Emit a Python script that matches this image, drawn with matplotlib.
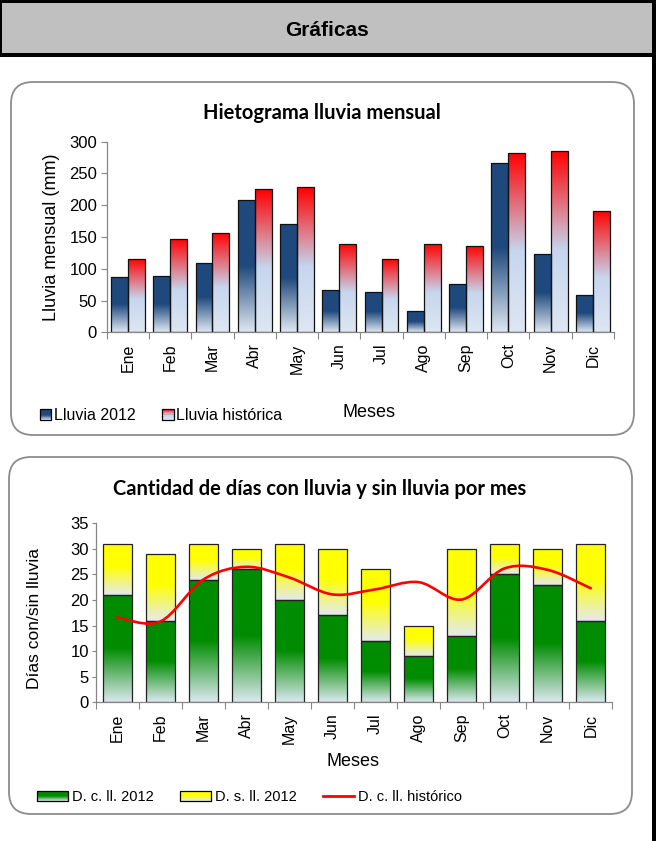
import numpy as np
import matplotlib
matplotlib.use("Agg")
import matplotlib.pyplot as plt
from matplotlib.patches import Rectangle, FancyBboxPatch, PathPatch, Patch
from matplotlib.lines import Line2D
from matplotlib.path import Path
from matplotlib.legend_handler import HandlerBase

plt.rcParams['font.family'] = ['Liberation Sans', 'DejaVu Sans']

# data
meses = ['Ene', 'Feb', 'Mar', 'Abr', 'May', 'Jun', 'Jul', 'Ago', 'Sep', 'Oct', 'Nov', 'Dic']
lluvia_2012 = [87, 88, 109, 208, 171, 66, 64, 33, 76, 266, 124, 59]
lluvia_historica = [116, 147, 156, 225, 228, 139, 115, 139, 136, 282, 285, 191]
dias_con_lluvia_2012 = [21, 16, 24, 26, 20, 17, 12, 9, 13, 25, 23, 16]
dias_del_mes_2012 = [31, 29, 31, 30, 31, 30, 26, 15, 30, 31, 30, 31]
dias_con_lluvia_hist = [16.6, 15.8, 24.0, 26.5, 24.4, 21.1, 22.1, 23.5, 20.1, 26.2, 25.9, 22.3]

# gradient stops (position from bottom of bar, rgb)
BLUE = [(0.0, (222, 231, 242)), (0.5, (31, 73, 125)), (1.0, (31, 73, 125))]
RED = [(0.0, (222, 231, 242)), (0.45, (198, 214, 238)), (1.0, (255, 0, 0))]
GREEN = [(0.0, (220, 232, 240)), (0.5, (0, 140, 0)), (1.0, (0, 140, 0))]
YELLOW = [(0.0, (228, 234, 240)), (0.55, (255, 255, 0)), (1.0, (255, 255, 0))]


def color_at(stops, t):
    pos = [s[0] for s in stops]
    return tuple(np.interp(t, pos, [s[1][k] for s in stops]) / 255 for k in range(3))


def gradient_bars(ax, bars, stops):
    t = np.linspace(0, 1, 200)
    img = np.array([color_at(stops, v) for v in t]).reshape(200, 1, 3)
    for b in bars:
        x0, y0, w, h = b.get_x(), b.get_y(), b.get_width(), b.get_height()
        im = ax.imshow(img, extent=(x0, x0 + w, y0, y0 + h), origin='lower',
                       aspect='auto', interpolation='bilinear', zorder=1.5)
        im.set_clip_path(b)
        b.set_facecolor('none')


class GradHandler(HandlerBase):
    def __init__(self, stops):
        super().__init__()
        self.stops = stops

    def create_artists(self, legend, orig_handle, xdescent, ydescent, width, height, fontsize, trans):
        arts = []
        n = 10
        for i in range(n):
            arts.append(Rectangle((-xdescent, -ydescent + height * i / n), width, height / n,
                                  facecolor=color_at(self.stops, (i + 0.5) / n), edgecolor='none',
                                  transform=trans))
        arts.append(Rectangle((-xdescent, -ydescent), width, height, facecolor='none',
                              edgecolor='black', lw=0.9, transform=trans))
        return arts


fig = plt.figure(figsize=(6.56, 8.41), dpi=100)
H = 841


def px_rect(x, y, w, h, **kw):
    # rectangle given in top-left pixel coords
    return Rectangle((x / 100, (H - y - h) / 100), w / 100, h / 100,
                     transform=fig.dpi_scale_trans, **kw)


# header and frame
fig.patches.append(px_rect(0, 0, 656, 54, facecolor='#c0c0c0', edgecolor='none', zorder=-3))
fig.patches.append(px_rect(0, 0, 656, 3, facecolor='black', edgecolor='none', zorder=-2))
fig.patches.append(px_rect(0, 53, 656, 4, facecolor='black', edgecolor='none', zorder=-2))
fig.patches.append(px_rect(0, 0, 2, 57, facecolor='black', edgecolor='none', zorder=-2))
fig.patches.append(px_rect(652, 0, 4, 841, facecolor='black', edgecolor='none', zorder=-2))
fig.text(0.4985, 0.9643, 'Gráficas', ha='center', va='center', fontsize=15, fontweight='bold')

# rounded chart boxes
for (x0, y0, x1, y1) in [(11, 82, 634, 435), (9, 457, 632, 814)]:
    fig.patches.append(FancyBboxPatch((x0 / 100, (H - y1) / 100), (x1 - x0) / 100, (y1 - y0) / 100,
                                      boxstyle='round,pad=0,rounding_size=0.22',
                                      transform=fig.dpi_scale_trans, facecolor='white',
                                      edgecolor='#8c8c8c', lw=1.3, zorder=-3))

x = np.arange(len(meses))
GRAY = '#868686'


def style_axis(ax):
    ax.patch.set_visible(False)
    for s in ['top', 'right']:
        ax.spines[s].set_visible(False)
    for s in ['left', 'bottom']:
        ax.spines[s].set_color(GRAY)
        ax.spines[s].set_linewidth(0.9)
    ax.set_xlim(-0.5, len(meses) - 0.5)
    ax.set_xticks(np.arange(-0.5, len(meses)))
    ax.set_xticklabels([])
    ax.set_xticks(x, minor=True)
    ax.set_xticklabels(meses, minor=True, rotation=90, fontsize=11.5)
    ax.tick_params(axis='x', which='major', direction='out', length=5, color=GRAY)
    ax.tick_params(axis='x', which='minor', length=0, pad=8)
    ax.tick_params(axis='y', direction='out', length=4, color=GRAY, labelsize=12, pad=3)


# chart 1: hietograma
ax1 = fig.add_axes([0.1627, 0.6049, 0.7733, 0.2266])
b1 = ax1.bar(x - 0.2, lluvia_2012, width=0.4, edgecolor='#111111', linewidth=0.9, zorder=2)
b2 = ax1.bar(x + 0.2, lluvia_historica, width=0.4, edgecolor='#111111', linewidth=0.9, zorder=2)
gradient_bars(ax1, b1, BLUE)
gradient_bars(ax1, b2, RED)
style_axis(ax1)
ax1.set_ylim(0, 300)
ax1.set_yticks(range(0, 301, 50))
ax1.set_ylabel('Lluvia mensual (mm)', fontsize=13)
ax1.yaxis.set_label_coords(-0.1084, 0.50)
ax1.yaxis.label.set_va('center')
ax1.set_xlabel('Meses', fontsize=13)
ax1.xaxis.set_label_coords(0.517, -0.422)
ax1.xaxis.label.set_va('center')
fig.text(0.4904, 0.8656, 'Hietograma lluvia mensual', ha='center', va='center',
         fontsize=14.5, fontweight='bold', family='Lato')

h1, h2 = Patch(), Patch()
fig.legend([h1, h2], ['Lluvia 2012', 'Lluvia histórica'], loc='center left',
           bbox_to_anchor=(0.061, 0.5057), ncol=2, frameon=False, fontsize=11.5,
           handlelength=0.7, handleheight=0.7, handletextpad=0.15, columnspacing=1.7,
           borderpad=0, borderaxespad=0,
           handler_map={h1: GradHandler(BLUE), h2: GradHandler(RED)})

# chart 2: dias con / sin lluvia
ax2 = fig.add_axes([0.1459, 0.1649, 0.7875, 0.2128])
dias_sin = np.array(dias_del_mes_2012) - np.array(dias_con_lluvia_2012)
g = ax2.bar(x, dias_con_lluvia_2012, width=0.68, edgecolor='#222222', linewidth=0.9, zorder=2)
yb = ax2.bar(x, dias_sin, bottom=dias_con_lluvia_2012, width=0.68, edgecolor='#222222',
             linewidth=0.9, zorder=2)
gradient_bars(ax2, g, GREEN)
gradient_bars(ax2, yb, YELLOW)

# smoothed line (Bezier through the points, like spreadsheet smoothing)
pts = np.column_stack([x, dias_con_lluvia_hist]).astype(float)
ext = np.vstack([pts[0], pts, pts[-1]])
verts = [tuple(pts[0])]
codes = [Path.MOVETO]
for i in range(len(pts) - 1):
    p0, p1, p2, p3 = ext[i], ext[i + 1], ext[i + 2], ext[i + 3]
    verts += [tuple(p1 + (p2 - p0) / 6), tuple(p2 - (p3 - p1) / 6), tuple(p2)]
    codes += [Path.CURVE4] * 3
ax2.add_patch(PathPatch(Path(verts, codes), facecolor='none', edgecolor='#ff0000',
                        lw=1.9, zorder=3, capstyle='round'))

style_axis(ax2)
ax2.set_ylim(0, 35)
ax2.set_yticks(range(0, 36, 5))
ax2.tick_params(axis='y', length=3, pad=2)
ax2.set_ylabel('Días con/sin lluvia', fontsize=12.5)
ax2.yaxis.set_label_coords(-0.1194, 0.469)
ax2.yaxis.label.set_va('center')
ax2.set_xlabel('Meses', fontsize=13)
ax2.xaxis.set_label_coords(0.498, -0.332)
ax2.xaxis.label.set_va('center')
fig.text(0.4878, 0.4185, 'Cantidad de días con lluvia y sin lluvia por mes', ha='center',
         va='center', fontsize=14.5, fontweight='bold', family='Lato')

g1, g2 = Patch(), Patch()
line = Line2D([], [], color='#ff0000', lw=2)
fig.legend([g1, g2, line], ['D. c. ll. 2012', 'D. s. ll. 2012', 'D. c. ll. histórico'],
           loc='center left', bbox_to_anchor=(0.0564, 0.052), ncol=3, frameon=False,
           fontsize=10.5, handlelength=2.1, handleheight=0.7, handletextpad=0.3,
           columnspacing=1.8, borderpad=0, borderaxespad=0,
           handler_map={g1: GradHandler(GREEN), g2: GradHandler(YELLOW)})

fig.savefig('out.png', dpi=100)
